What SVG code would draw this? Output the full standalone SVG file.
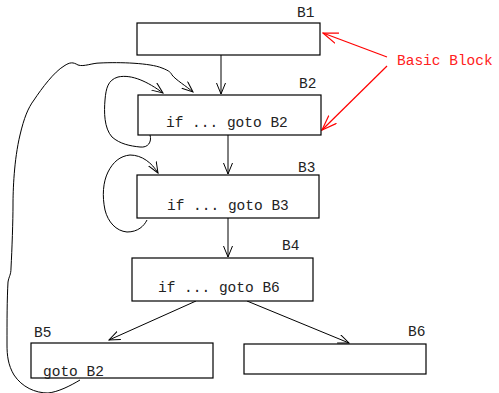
<svg xmlns="http://www.w3.org/2000/svg" width="499" height="393" viewBox="0 0 499 393">
  <defs>
    <marker id="vee" viewBox="0 0 12 10" refX="11" refY="5" markerWidth="12" markerHeight="10" markerUnits="userSpaceOnUse" orient="auto">
      <path d="M0,0.5 L11,5 L0,9.5" fill="none" stroke="#000" stroke-width="1"/>
    </marker>
    <marker id="vee-red" viewBox="0 0 16 12" refX="15" refY="6" markerWidth="16" markerHeight="12" markerUnits="userSpaceOnUse" orient="auto">
      <path d="M0,0.5 L15,6 L0,11.5" fill="none" stroke="#ff0000" stroke-width="1.2"/>
    </marker>
  </defs>
  <style>
    .box { fill: #fff; stroke: #000; stroke-width: 1.2; }
    .code { font-family: "Liberation Mono", "DejaVu Sans Mono", monospace; font-size: 14.5px; fill: #222; }
    .edge { fill: none; stroke: #000; stroke-width: 1; marker-end: url(#vee); }
    .note { fill: none; stroke: #ff0000; stroke-width: 1.2; marker-end: url(#vee-red); }
  </style>
  <rect width="499" height="393" fill="#fff"/>

  <g id="connectors">
    <line class="edge" x1="221" y1="55" x2="221" y2="94"/>
    <line class="edge" x1="228" y1="135" x2="228" y2="174"/>
    <line class="edge" x1="228" y1="218" x2="228" y2="257"/>
    <line class="edge" x1="196" y1="301" x2="109" y2="340"/>
    <line class="edge" x1="247" y1="301" x2="349" y2="343"/>
    <!-- B2 self loop -->
    <path class="edge" d="M150,135 C152,142 148,148 140,147 C130,146 120,144 112,137 C104,128 104,112 105,100 C106,88 108,80 118,77 C132,74 148,82 163,93"/>
    <!-- B3 self loop -->
    <path class="edge" d="M147,220 C144,226 138,232 127,232 C116,231 108,222 105,210 C102,196 103,182 108,172 C113,162 120,156 130,155 C142,155 152,163 158,173"/>
    <!-- B5 back to B2 -->
    <path class="edge" d="M80,380 C70,386 58,392 48,393 C35,393 22,387 14,375 C8,365 7,355 7,345 C7,320 7,300 8,282 C9,276 11,275 11,268 C12,250 13,220 13,205 C13,190 14,160 20,135 C24,118 28,108 34,100 C42,88 54,72 64,66 C70,62 73,62 78,65 C84,67 92,63 100,63 C120,62 150,63 162,68 C170,71 171,73 172,75 C176,80 186,86 193,92"/>
    <!-- Basic Block pointers -->
    <line class="note" x1="387" y1="57" x2="323" y2="33"/>
    <line class="note" x1="387" y1="66" x2="322" y2="130"/>
  </g>

  <g id="B1">
    <rect class="box" x="137" y="23" width="183" height="32"/>
    <text class="code" x="297" y="17">B1</text>
  </g>
  <g id="B2">
    <rect class="box" x="138" y="95" width="183" height="40"/>
    <text class="code" x="299" y="88">B2</text>
    <text class="code" x="166" y="127">if ... goto B2</text>
  </g>
  <g id="B3">
    <rect class="box" x="137" y="175" width="182" height="43"/>
    <text class="code" x="298" y="172">B3</text>
    <text class="code" x="167" y="210">if ... goto B3</text>
  </g>
  <g id="B4">
    <rect class="box" x="132" y="258" width="181" height="43"/>
    <text class="code" x="282" y="250">B4</text>
    <text class="code" x="158" y="292">if ... goto B6</text>
  </g>
  <g id="B5">
    <rect class="box" x="31" y="343" width="182" height="35"/>
    <text class="code" x="34" y="337">B5</text>
    <text class="code" x="43" y="376">goto B2</text>
  </g>
  <g id="B6">
    <rect class="box" x="244" y="344" width="182" height="30"/>
    <text class="code" x="408" y="336">B6</text>
  </g>
  <g id="basic-block-label">
    <text x="397" y="65" font-family="Liberation Mono, monospace" font-size="14.5" fill="#ff2020">Basic Block</text>
  </g>
</svg>
